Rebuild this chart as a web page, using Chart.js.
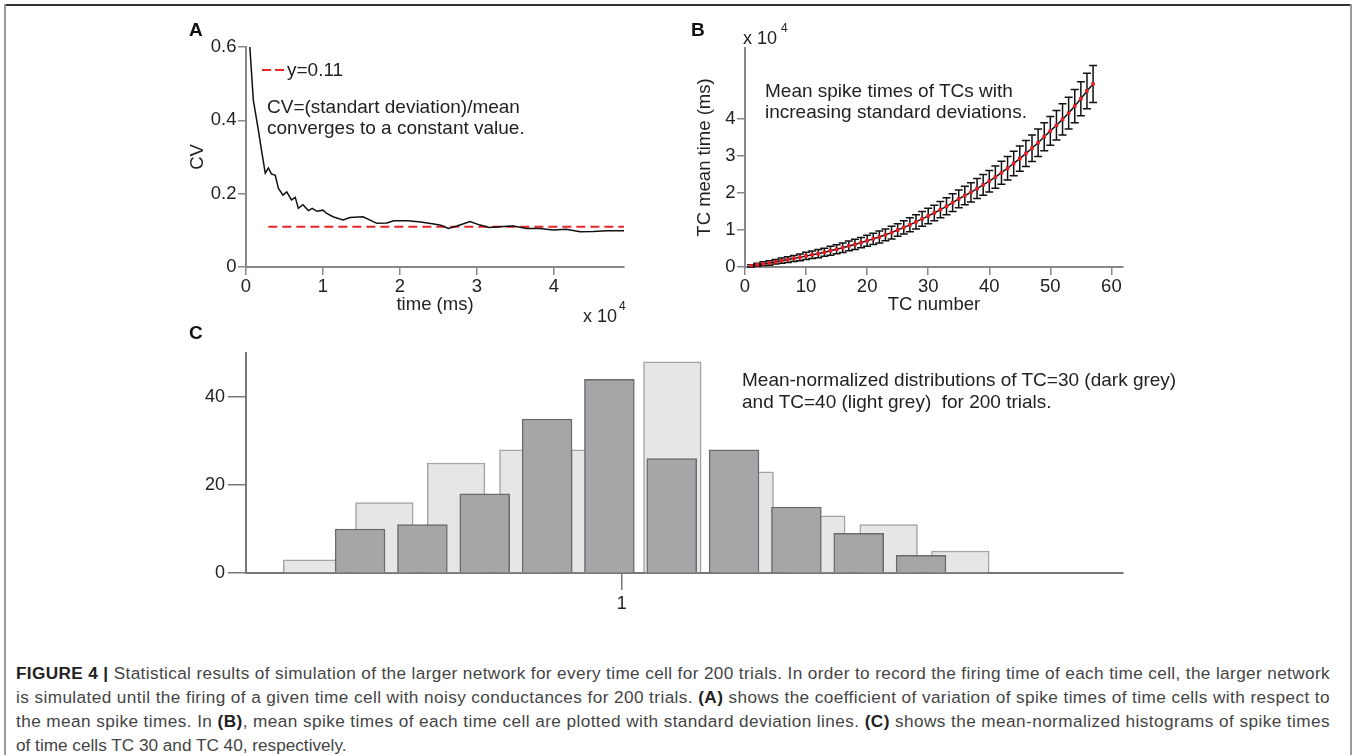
<!DOCTYPE html>
<html>
<head>
<meta charset="utf-8">
<script src="https://cdn.jsdelivr.net/npm/chart.js@4.4.1/dist/chart.umd.min.js"></script>
<style>
body { margin: 0; background: #fff; font-family: "Liberation Sans", Arial, sans-serif; }
#page { position: relative; width: 1357px; height: 755px; overflow: hidden; }
.line { position: absolute; }
canvas { position: absolute; }
.txt { position: absolute; white-space: nowrap; font-size: 19px; line-height: 22px; color: #222; }
.lbl { font-weight: bold; font-size: 19px; color: #111; }
.small { font-size: 18px; }
.sup { font-size: 12px; }
.cap { position: absolute; left: 16px; white-space: nowrap; font-size: 17.2px; line-height: 24px; color: #444; }
.cap b { color: #222; }
</style>
</head>
<body>
<div id="page">
  <div class="line" style="left:4px;top:4px;width:1348px;height:2px;background:#333"></div>
  <div class="line" style="left:4px;top:4px;width:2px;height:760px;background:#999"></div>
  <div class="line" style="left:1350px;top:4px;width:2px;height:760px;background:#999"></div>

  <canvas id="chartA" width="510" height="310" style="left:140px;top:10px"></canvas>
  <canvas id="chartB" width="490" height="310" style="left:660px;top:10px"></canvas>
  <canvas id="chartC" width="1010" height="290" style="left:140px;top:330px"></canvas>

  <div class="txt lbl" style="left:189px;top:19px">A</div>
  <div class="txt lbl" style="left:691px;top:19px">B</div>
  <div class="txt lbl" style="left:189px;top:322px">C</div>

  <div class="line" style="left:262px;top:69px;width:9px;height:2px;background:#e8262a"></div>
  <div class="line" style="left:275px;top:69px;width:9px;height:2px;background:#e8262a"></div>
  <div class="txt" style="left:287px;top:59px">y=0.11</div>
  <div class="txt" style="left:267px;top:96px">CV=(standart deviation)/mean</div>
  <div class="txt" style="left:267px;top:117px">converges to a constant value.</div>
  <div class="txt small" style="left:583px;top:305px">x 10</div>
  <div class="txt sup" style="left:619px;top:295px">4</div>

  <div class="txt small" style="left:743px;top:27px">x 10</div>
  <div class="txt sup" style="left:781px;top:17px">4</div>
  <div class="txt" style="left:765px;top:80px">Mean spike times of TCs with</div>
  <div class="txt" style="left:765px;top:101px">increasing standard deviations.</div>

  <div class="txt" style="left:742px;top:369px">Mean-normalized distributions of TC=30 (dark grey)</div>
  <div class="txt" style="left:742px;top:391px">and TC=40 (light grey)&nbsp; for 200 trials.</div>

  <div class="cap fit" style="top:661px"><b>FIGURE 4 |</b> Statistical results of simulation of the larger network for every time cell for 200 trials. In order to record the firing time of each time cell, the larger network</div>
  <div class="cap fit" style="top:685px">is simulated until the firing of a given time cell with noisy conductances for 200 trials. <b>(A)</b> shows the coefficient of variation of spike times of time cells with respect to</div>
  <div class="cap fit" style="top:709px">the mean spike times. In <b>(B)</b>, mean spike times of each time cell are plotted with standard deviation lines. <b>(C)</b> shows the mean-normalized histograms of spike times</div>
  <div class="cap" style="top:733px">of time cells TC 30 and TC 40, respectively.</div>
</div>

<script>
// panel A: CV against time (x 10^4 ms)
let cvTime = [0.05, 0.095, 0.16, 0.2, 0.25, 0.29, 0.33, 0.38, 0.42, 0.48, 0.53, 0.59, 0.64, 0.68, 0.74, 0.81, 0.86, 0.92, 1.0, 1.05,
              1.13, 1.26, 1.35, 1.52, 1.7, 1.83, 1.92, 2.1, 2.27, 2.44, 2.53, 2.63, 2.74, 2.91, 3.03, 3.16, 3.29, 3.47, 3.65, 3.82,
              3.99, 4.16, 4.34, 4.51, 4.69, 4.91];
let cvValue = [0.6, 0.455, 0.374, 0.32, 0.256, 0.27, 0.254, 0.25, 0.215, 0.196, 0.205, 0.183, 0.19, 0.16, 0.17, 0.154, 0.16, 0.152, 0.155, 0.146,
               0.137, 0.128, 0.135, 0.137, 0.119, 0.12, 0.126, 0.126, 0.123, 0.117, 0.114, 0.105, 0.112, 0.124, 0.115, 0.108, 0.11, 0.112, 0.105, 0.105,
               0.101, 0.103, 0.096, 0.097, 0.099, 0.099];
let refLineX = [0.29, 4.91];
let refLineY = [0.11, 0.11];
let cvTicksX = [0, 1, 2, 3, 4];
let cvTicksY = [0, 0.2, 0.4, 0.6];

// panel B: mean spike time (x 10^4 ms) of each TC, with std
let tcNumber = [1, 2, 3, 4, 5, 6, 7, 8, 9, 10, 11, 12, 13, 14, 15, 16, 17, 18, 19, 20,
                21, 22, 23, 24, 25, 26, 27, 28, 29, 30, 31, 32, 33, 34, 35, 36, 37, 38, 39, 40,
                41, 42, 43, 44, 45, 46, 47, 48, 49, 50, 51, 52, 53, 54, 55, 56, 57];
let tcMean = [0.03, 0.06, 0.09, 0.11, 0.14, 0.17, 0.20, 0.23, 0.26, 0.30, 0.33, 0.36, 0.40, 0.44, 0.48, 0.52, 0.57, 0.61, 0.66, 0.71,
              0.76, 0.81, 0.87, 0.93, 1.00, 1.07, 1.14, 1.22, 1.30, 1.38, 1.46, 1.55, 1.64, 1.74, 1.84, 1.93, 2.02, 2.12, 2.22, 2.32,
              2.43, 2.55, 2.67, 2.80, 2.93, 3.07, 3.21, 3.36, 3.52, 3.68, 3.83, 3.99, 4.16, 4.35, 4.55, 4.76, 4.95];
let tcStd = [0.03, 0.04, 0.05, 0.06, 0.06, 0.07, 0.08, 0.08, 0.09, 0.10, 0.10, 0.11, 0.11, 0.12, 0.12, 0.13, 0.13, 0.14, 0.14, 0.15,
             0.15, 0.16, 0.16, 0.17, 0.17, 0.18, 0.19, 0.19, 0.20, 0.21, 0.21, 0.22, 0.23, 0.24, 0.24, 0.25, 0.26, 0.27, 0.28, 0.29,
             0.30, 0.31, 0.32, 0.33, 0.34, 0.35, 0.36, 0.37, 0.38, 0.39, 0.40, 0.42, 0.43, 0.45, 0.46, 0.48, 0.50];
let tcTicksX = [0, 10, 20, 30, 40, 50, 60];
let tcTicksY = [0, 1, 2, 3, 4];

// panel C: mean-normalized histograms
let tc30Center = [0.58, 0.68, 0.78, 0.88, 0.98, 1.08, 1.18, 1.28, 1.38, 1.48];
let tc30Count = [10, 11, 18, 35, 44, 26, 28, 15, 9, 4];
let tc40Center = [0.503, 0.619, 0.734, 0.850, 0.965, 1.081, 1.197, 1.312, 1.428, 1.543];
let tc40Count = [3, 16, 25, 28, 28, 48, 23, 13, 11, 5];
let tc30BinWidth = 0.1;
let tc40BinWidth = 0.1156;
let histTicksX = [1];
let histTicksY = [0, 20, 40];

Chart.defaults.font.family = '"Liberation Sans", Arial, sans-serif';
Chart.defaults.color = '#222';

function fixTicks(values) {
    return function (scale) {
        scale.ticks = values.map(v => ({ value: v }));
    };
}

function xy(xs, ys) {
    return xs.map((x, i) => ({ x: x, y: ys[i] }));
}

let baseOptions = {
    responsive: false,
    animation: false,
    devicePixelRatio: 1,
    plugins: { legend: { display: false }, tooltip: { enabled: false } }
};

// ---- A ----
new Chart(document.getElementById('chartA'), {
    type: 'line',
    data: {
        datasets: [{
            data: xy(cvTime, cvValue),
            borderColor: '#111',
            borderWidth: 1.5,
            pointRadius: 0,
            tension: 0
        }, {
            data: xy(refLineX, refLineY),
            borderColor: '#e8262a',
            borderWidth: 2,
            borderDash: [9, 5],
            pointRadius: 0
        }]
    },
    options: {
        ...baseOptions,
        layout: { padding: { top: 37, right: 26, left: 0, bottom: 0 } },
        scales: {
            x: {
                type: 'linear', min: 0, max: 4.91,
                afterBuildTicks: fixTicks(cvTicksX),
                afterFit: s => { s.height = 53; },
                grid: { drawOnChartArea: false, tickLength: 8, color: '#888', lineWidth: 1.5 },
                border: { color: '#888', width: 2 },
                ticks: { font: { size: 18.5 }, padding: 1, maxRotation: 0, autoSkip: false, callback: v => String(v) },
                title: { display: true, text: 'time (ms)', font: { size: 18.5 }, padding: { top: 0, bottom: 4 } }
            },
            y: {
                min: 0, max: 0.6,
                afterBuildTicks: fixTicks(cvTicksY),
                afterFit: s => { s.width = 106; },
                grid: { drawOnChartArea: false, tickLength: 8, color: '#888', lineWidth: 1.5 },
                border: { color: '#888', width: 2 },
                ticks: { font: { size: 18.5 }, padding: 1.5, autoSkip: false, callback: v => String(v) },
                title: { display: true, text: 'CV', font: { size: 18.5 }, padding: { top: 47, bottom: 0 } }
            }
        }
    }
});

// ---- B ----
let errorBars = {
    id: 'errorBars',
    beforeDatasetsDraw(chart) {
        let ctx = chart.ctx, xs = chart.scales.x, ys = chart.scales.y;
        ctx.save();
        ctx.strokeStyle = '#111';
        ctx.lineWidth = 1.5;
        tcNumber.forEach((n, i) => {
            let x = xs.getPixelForValue(n);
            let top = ys.getPixelForValue(tcMean[i] + tcStd[i]);
            let bot = ys.getPixelForValue(tcMean[i] - tcStd[i]);
            ctx.beginPath();
            ctx.moveTo(x, top); ctx.lineTo(x, bot);
            ctx.moveTo(x - 4, top); ctx.lineTo(x + 4, top);
            ctx.moveTo(x - 4, bot); ctx.lineTo(x + 4, bot);
            ctx.stroke();
        });
        ctx.restore();
    }
};

new Chart(document.getElementById('chartB'), {
    type: 'line',
    data: {
        datasets: [{
            data: xy(tcNumber, tcMean),
            borderColor: '#111',
            borderWidth: 1.5,
            pointStyle: 'rect',
            pointRadius: 2.5,
            pointBorderWidth: 0,
            pointBackgroundColor: '#ee1c25'
        }]
    },
    options: {
        ...baseOptions,
        layout: { padding: { top: 38, right: 27, left: 0, bottom: 0 } },
        scales: {
            x: {
                type: 'linear', min: 0, max: 61.9,
                afterBuildTicks: fixTicks(tcTicksX),
                afterFit: s => { s.height = 53; },
                grid: { drawOnChartArea: false, tickLength: 8, color: '#888', lineWidth: 1.5 },
                border: { color: '#888', width: 2 },
                ticks: { font: { size: 18.5 }, padding: 1, maxRotation: 0, autoSkip: false },
                title: { display: true, text: 'TC number', font: { size: 18.5 }, padding: { top: 0, bottom: 4 } }
            },
            y: {
                min: 0, max: 5.92,
                afterBuildTicks: fixTicks(tcTicksY),
                afterFit: s => { s.width = 85; },
                grid: { drawOnChartArea: false, tickLength: 8, color: '#888', lineWidth: 1.5 },
                border: { color: '#888', width: 2 },
                ticks: { font: { size: 18.5 }, padding: 1.5, autoSkip: false },
                title: { display: true, text: 'TC mean time (ms)', font: { size: 18.5 }, padding: { top: 34, bottom: 0 } }
            }
        }
    },
    plugins: [errorBars]
});

// ---- C ----
let histChart = new Chart(document.getElementById('chartC'), {
    type: 'bar',
    data: {
        datasets: [{
            label: 'TC=40',
            data: xy(tc40Center, tc40Count),
            backgroundColor: '#e6e6e6',
            borderColor: '#a3a3a3',
            borderWidth: 1.5,
            grouped: false,
            barThickness: 10,
            order: 2
        }, {
            label: 'TC=30',
            data: xy(tc30Center, tc30Count),
            backgroundColor: '#a6a6a9',
            borderColor: '#6b6b6e',
            borderWidth: 1.5,
            grouped: false,
            barThickness: 10,
            order: 1
        }]
    },
    options: {
        ...baseOptions,
        layout: { padding: { top: 23, right: 27, left: 0, bottom: 0 } },
        scales: {
            x: {
                type: 'linear', min: 0.397, max: 1.804, offset: false,
                afterBuildTicks: fixTicks(histTicksX),
                afterFit: s => { s.height = 47; },
                grid: { drawOnChartArea: false, offset: false, tickLength: 17, color: '#777', lineWidth: 1.5 },
                border: { color: '#777', width: 2 },
                ticks: { font: { size: 18 }, padding: 3, maxRotation: 0, autoSkip: false }
            },
            y: {
                min: 0, max: 50,
                afterBuildTicks: fixTicks(histTicksY),
                afterFit: s => { s.width = 106; },
                grid: { drawOnChartArea: false, tickLength: 18, color: '#777', lineWidth: 1.5 },
                border: { color: '#777', width: 2 },
                ticks: { font: { size: 18 }, padding: 3, autoSkip: false }
            }
        }
    }
});

// bar widths: 80% of each histogram's bin width, in pixels of the x scale
let hx = histChart.scales.x;
let pxPerUnit = hx.getPixelForValue(1) - hx.getPixelForValue(0);
histChart.data.datasets[0].barThickness = 0.8 * tc40BinWidth * pxPerUnit;
histChart.data.datasets[1].barThickness = 0.8 * tc30BinWidth * pxPerUnit;
histChart.update();

// stretch the caption lines to the same right edge (spread over letters)
document.querySelectorAll('.cap.fit').forEach(el => {
    let chars = el.textContent.length;
    let extra = 1314 - el.getBoundingClientRect().width;
    el.style.letterSpacing = (extra / chars) + 'px';
});
</script>
</body>
</html>
